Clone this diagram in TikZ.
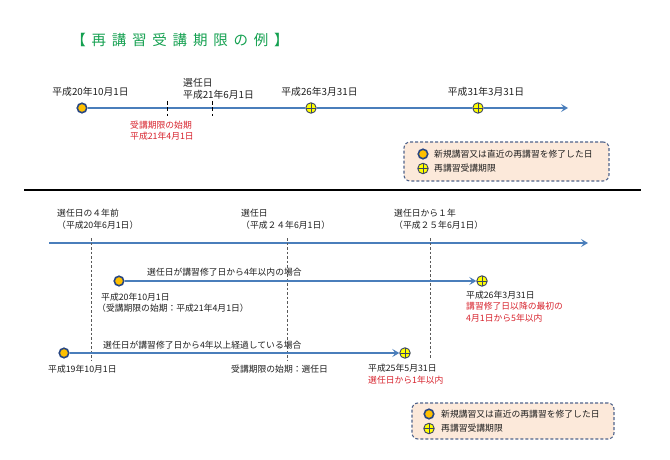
\documentclass[tikz,border=0pt]{standalone}
\usepackage{fontspec}
\setmainfont{Noto Sans CJK JP}
\usetikzlibrary{arrows.meta}
\definecolor{tl}{RGB}{74,126,187}
\definecolor{navy}{RGB}{40,70,130}
\definecolor{orng}{RGB}{255,192,0}
\definecolor{ylw}{RGB}{255,255,0}
\definecolor{pdk}{RGB}{60,70,100}
\definecolor{redt}{RGB}{215,35,45}
\definecolor{ttl}{RGB}{20,160,80}
\definecolor{lgb}{RGB}{80,100,140}
\definecolor{lgf}{RGB}{252,233,218}
\definecolor{txt}{RGB}{30,30,30}
\begin{document}
\begin{tikzpicture}[x=1pt,y=-1pt,
  ocirc/.style={circle,draw=navy,fill=orng,line width=1.6pt,minimum size=9.5pt,inner sep=0pt},
  pcirc/.style={circle,draw=pdk,fill=ylw,line width=0.9pt,minimum size=10.5pt,inner sep=0pt,
    path picture={\draw[pdk,line width=0.9pt] (path picture bounding box.north)--(path picture bounding box.south)
      (path picture bounding box.west)--(path picture bounding box.east);}},
  tline/.style={draw=tl,line width=1.5pt},
  tarrow/.style={tline,-{Stealth[length=7pt,width=8pt,inset=3pt]}},
  lbl/.style={inner sep=0pt,text=txt,font=\fontsize{9.8}{11}\selectfont},
  slbl/.style={inner sep=0pt,text=txt,anchor=west,font=\fontsize{8.8}{10}\selectfont},
  redtxt/.style={text=redt},
  vdash/.style={draw=gray!70!black,line width=0.8pt,dash pattern=on 2.5pt off 2pt},
  tickmark/.style={draw=black,line width=1pt,dash pattern=on 4pt off 2.5pt},
  legendbox/.style={draw=lgb,fill=lgf,line width=1.1pt,dash pattern=on 3pt off 2pt,rounded corners=6pt,inner sep=0pt},
  titlestyle/.style={inner sep=0pt,text=ttl,font=\fontsize{14.5}{16}\selectfont\addfontfeature{LetterSpace=40}}
]
\useasboundingbox (0,0) rectangle (670,460);

% title
\node[titlestyle] (title) at (180,40) {【再講習受講期限の例】};

% ---- top timeline ----
\node[ocirc] (t1) at (82,108) {};
\node[pcirc] (t3) at (311,108) {};
\node[pcirc] (t4) at (478,108) {};
\coordinate (tend) at (568,108);
\draw[tline] (t1) -- (t3);
\draw[tline] (t3) -- (t4);
\draw[tarrow] (t4) -- (tend);
\coordinate (k1a) at (167,101); \coordinate (k1b) at (167,116);
\coordinate (k2a) at (212,101); \coordinate (k2b) at (212,116);
\draw[tickmark] (k1a) -- (k1b);
\draw[tickmark] (k2a) -- (k2b);

\node[lbl] (l1) at (90.5,92) {平成20年10月1日};
\node[lbl,anchor=west] (l2a) at (183,83) {選任日};
\node[lbl,anchor=west] (l2b) at (183,95) {平成21年6月1日};
\node[lbl] (l3) at (319.5,92) {平成26年3月31日};
\node[lbl] (l4) at (486,92) {平成31年3月31日};
\node[slbl,redtxt] (l5a) at (130,125) {受講期限の始期};
\node[slbl,redtxt] (l5b) at (130,136) {平成21年4月1日};

% legend 1
\node[legendbox,minimum width=205pt,minimum height=39pt] (lg1) at (506.5,161.5) {};
\node[ocirc] (lg1o) at (423,154) {};
\node[pcirc] (lg1p) at (423,168.5) {};
\node[slbl] (lg1ot) at (434,154) {新規講習又は直近の再講習を修了した日};
\node[slbl] (lg1pt) at (434,168.5) {再講習受講期限};

% separator
\coordinate (sepa) at (24,190); \coordinate (sepb) at (641,190);
\draw[line width=1.8pt] (sepa) -- (sepb);

% ---- bottom timeline ----
\coordinate (bstart) at (49,243); \coordinate (bend) at (588,243);
\draw[tarrow] (bstart) -- (bend);
\coordinate (v1a) at (91,238); \coordinate (v1b) at (91,360);
\coordinate (v2a) at (287,238); \coordinate (v2b) at (287,360);
\coordinate (v3a) at (430,238); \coordinate (v3b) at (430,359);
\draw[vdash] (v1a) -- (v1b);
\draw[vdash] (v2a) -- (v2b);
\draw[vdash] (v3a) -- (v3b);

\node[slbl] (b1a) at (57,213) {選任日の４年前};
\node[slbl] (b1b) at (57,225) {（平成20年6月1日）};
\node[slbl] (b2a) at (241,213) {選任日};
\node[slbl] (b2b) at (241,225) {（平成２４年6月1日）};
\node[slbl] (b3a) at (394,213) {選任日から１年};
\node[slbl] (b3b) at (394,225) {（平成２５年6月1日）};

% case 1
\node[ocirc] (c1a) at (119,281) {};
\node[pcirc] (c1b) at (482,281) {};
\draw[tarrow] (c1a) -- (c1b);
\node[slbl] (c1l) at (147,272.5) {選任日が講習修了日から4年以内の場合};
\node[slbl] (c1d) at (101,297) {平成20年10月1日};
\node[slbl] (c1e) at (97,308.5) {（受講期限の始期：平成21年4月1日）};
\node[slbl] (c1f) at (466,295) {平成26年3月31日};
\node[slbl,redtxt] (c1g) at (466,306.5) {講習修了日以降の最初の};
\node[slbl,redtxt] (c1h) at (466,318) {4月1日から5年以内};

% case 2
\node[ocirc] (c2a) at (64,353) {};
\node[pcirc] (c2b) at (405,353) {};
\draw[tarrow] (c2a) -- (c2b);
\node[slbl] (c2l) at (103,345) {選任日が講習修了日から4年以上経過している場合};
\node[slbl] (c2d) at (48,369) {平成19年10月1日};
\node[slbl] (c2e) at (231,369) {受講期限の始期：選任日};
\node[slbl] (c2f) at (368,368) {平成25年5月31日};
\node[slbl,redtxt] (c2g) at (368,380) {選任日から1年以内};

% legend 2
\node[legendbox,minimum width=202pt,minimum height=36pt] (lg2) at (513,421) {};
\node[ocirc] (lg2o) at (429,414) {};
\node[pcirc] (lg2p) at (429,428.5) {};
\node[slbl] (lg2ot) at (441,414) {新規講習又は直近の再講習を修了した日};
\node[slbl] (lg2pt) at (441,428.5) {再講習受講期限};
\end{tikzpicture}
\end{document}
